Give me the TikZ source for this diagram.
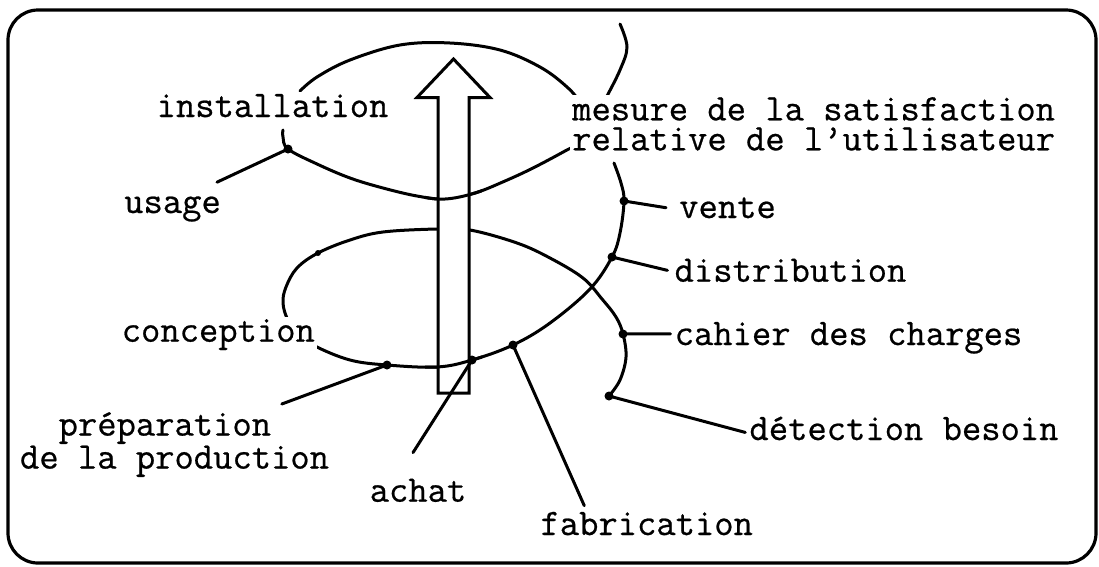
\documentclass[tikz,border=0pt]{standalone}
\usepackage{fontspec}
\newfontfamily\lblfont{Latin Modern Mono}[FakeBold=0.6]

% spiral pieces (pixel-like units, y downwards)
\newcommand{\pathA}{plot[smooth, tension=0.6] coordinates {(dB) (620,380) (626,357) (dCh) (616,317) (602,299) (583,278) (550,258) (517,243) (470,230) (437,229) (383,232) (350,240) (dC) (297,268) (286,287) (283,303) (288,320) (300,334) (315,346) (350,360) (dP) (437,367) (dA) (dF) (550,323) (590,289) (dD) (620,233) (dV) (621,183) (614,163)}}
\newcommand{\pathU}{plot[smooth, tension=0.6] coordinates {(300,91) (317,77) (350,60) (400,45) (450,43) (500,50) (540,67) (567,87) (580,103) (588,125) (578,143) (565,151) (533,168) (505,181) (475,193) (445,199) (417,196) (383,188) (350,178) (317,164) (dU) (283,137) (283,130)}}
\newcommand{\pathT}{plot[smooth, tension=0.6] coordinates {(607,96) (620,70) (627,47) (620,24)}}

\begin{document}
\begin{tikzpicture}[x=1pt, y=-1pt,
    lbl/.style={font=\lblfont\fontsize{37.5}{40}\selectfont, anchor=base, inner sep=2pt, fill=white},
    curve/.style={line width=3pt, line join=round, line cap=round},
    lead/.style={line width=3pt, line cap=round}]
    \useasboundingbox (0,0) rectangle (1099,566);
    % Frame
    \draw[line width=3.2pt, rounded corners=30pt] (8,10) rectangle (1096,563);
    % Points on the spiral
    \coordinate (dU)  at (288,149);
    \coordinate (dC)  at (318,253);
    \coordinate (dP)  at (387,365);
    \coordinate (dA)  at (472,360);
    \coordinate (dF)  at (513,345);
    \coordinate (dD)  at (612,257);
    \coordinate (dV)  at (624,201);
    \coordinate (dCh) at (623,334);
    \coordinate (dB)  at (609,396);
    % Spiral
    \draw[curve] \pathA;
    \draw[curve] \pathU;
    \draw[curve] \pathT;
    % Hollow arrow
    \draw[line width=3pt, fill=white]
        (438,393) -- (438,97.5) -- (417,97.5) -- (453.5,59) -- (490,97.5) -- (469,97.5) -- (469,393) -- cycle;
    % Front parts of the loops pass over the arrow
    \begin{scope}
        \clip (425,350) rectangle (482,385);
        \draw[curve] \pathA;
    \end{scope}
    \begin{scope}
        \clip (425,182) rectangle (482,212);
        \draw[curve] \pathU;
    \end{scope}
    % Labels
    \node[lbl] (install) at (272.5,117) {installation};
    \node[lbl] (usage)   at (172.5,213) {usage};
    \node[lbl] (concep)  at (218.3,341.7) {conception};
    \node[lbl, anchor=north west, align=left, font=\lblfont\fontsize{37.5}{33}\selectfont]
        (prep) at (17.8,410) {\phantom{de}préparation\\de la production};
    \node[lbl, anchor=north west, align=left, font=\lblfont\fontsize{37.5}{30}\selectfont]
        (mesure) at (570,95) {mesure de la satisfaction\\relative de l’utilisateur};
    \node[lbl] (achat)   at (418,501.7) {achat};
    \node[lbl] (fabric)  at (646.7,535) {fabrication};
    \node[lbl] (vente)   at (727.5,218) {vente};
    \node[lbl] (distrib) at (790.5,281.7) {distribution};
    \node[lbl] (cahier)  at (848.5,345) {cahier des charges};
    \node[lbl] (detect)  at (904,440) {détection besoin};
    % Leaders
    \draw[lead] (dU)  -- ([xshift=-6pt, yshift=12pt]usage.north east);
    \draw[lead] (dP)  -- ([xshift=264pt, yshift=6pt]prep.north west);
    \draw[lead] (dA)  -- ([xshift=-5pt, yshift=24pt]achat.north);
    \draw[lead] (dF)  -- ([xshift=46pt, yshift=4pt]fabric.north west);
    \draw[lead] (dB)  -- ([xshift=-2pt, yshift=-4pt]detect.west);
    \draw[lead] (dCh) -- ([xshift=-2pt, yshift=4pt]cahier.west);
    \draw[lead] (dD)  -- ([xshift=-5pt]distrib.west);
    \draw[lead] (dV)  -- ([xshift=-11pt]vente.west);
    % Dots
    \fill (dU) circle (4.5pt);
    \fill (dC) circle (3pt);
    \fill (dP) circle (4.5pt);
    \fill (dA) circle (4.5pt);
    \fill (dF) circle (4.5pt);
    \fill (dD) circle (4.5pt);
    \fill (dV) circle (4.5pt);
    \fill (dCh) circle (4.5pt);
    \fill (dB) circle (4.5pt);
\end{tikzpicture}
\end{document}
